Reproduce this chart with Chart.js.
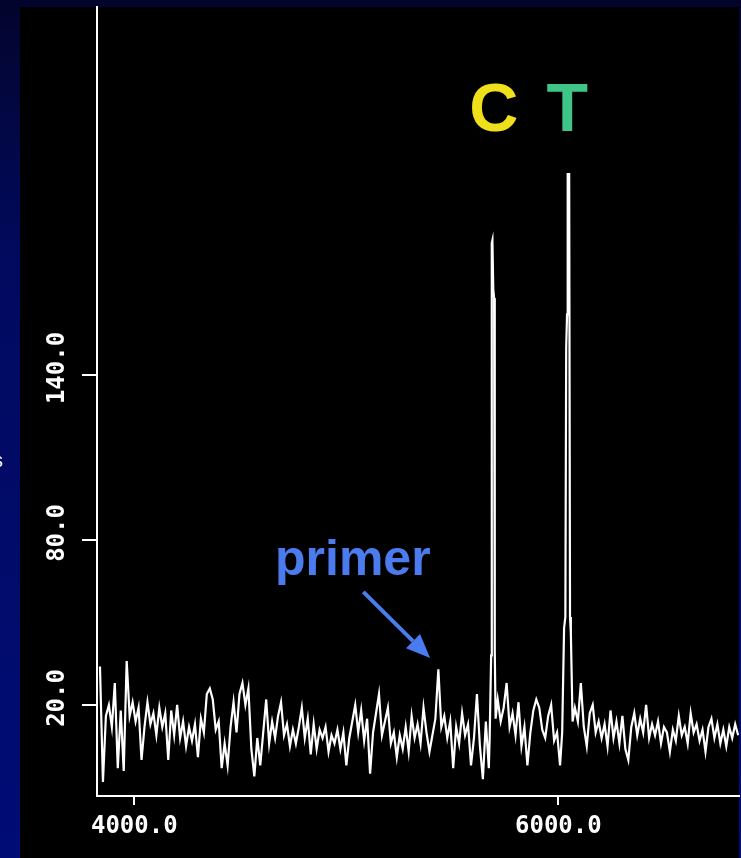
<!DOCTYPE html>
<html>
<head>
<meta charset="utf-8">
<script src="https://cdn.jsdelivr.net/npm/chart.js@4"></script>
<style>
  html, body { margin: 0; padding: 0; }
  body {
    width: 741px; height: 858px; overflow: hidden;
    background: linear-gradient(to bottom, #03042c 0%, #010a5e 30%, #000c76 100%);
  }
  #c { position: absolute; left: 0; top: 0; }
</style>
</head>
<body>
<canvas id="c" width="741" height="858"></canvas>
<script>
// ---------- data ----------
const xStart = 3838;          // first sample position
const xStep = 14;             // spacing between samples
const noiseValues = [
  34, -8, 16, 20, 12, 28, -3, 18, -4, 36,
  16, 21, 14, 19, 0, 12, 21, 13, 17, 9,
  19, 12, 17, 0, 18, 9, 20, 8, 14, 5,
  12, 7, 13, 1, 15, 10, 24, 26, 22, 11,
  14, -3, 6, -2, 12, 21, 10, 24, 28, 20,
  26, 4, -6, 8, -2, 10, 22, 6, 14, 8,
  16, 21, 9, 13, 5, 11, 6, 12, 19, 8,
  15, 2, 13, 4, 11, 8, 12, 3, 9, 6,
  11, 4, 10, -2, 8, 14, 20, 10, 18, 7,
  15, -5, 10, 17, 24, 9, 14, 19, 6, 10,
  1, 9, 4, 12, 3, 16, 8, 13, 6, 19,
  10, 3, 9, 15, 33, 12, 16, 8, 14, -3,
  12, 6, 17, 9, 13, -2, 8, 24, 5, -7,
  14, -3, 0, 0, 22, 14, 19, 28, 12, 17,
  9, 21, 5, 12, -2, 10, 18, 22, 19, 11,
  8, 16, 20, 7, 10, -2, 0, 0, 0, 0,
  19, 14, 28, 12, 5, 17, 20, 10, 14, 8,
  13, 5, 18, 8, 14, 6, 16, 4, 0, 12,
  17, 9, 15, 10, 20, 8, 13, 9, 14, 6,
  12, 10, 3, 11, 7, 16, 9, 12, 6, 17,
  10, 13, 7, 11, 3, 12, 15, 8, 13, 6,
  11, 5, 12, 8, 13, 9
];
// C peak
const peakCX = [5676, 5683, 5686, 5689, 5693, 5697, 5700, 5704];
const peakCY = [8, 38, 188, 189, 171, 168, 40, 15];
// T peak
const peakTX = [6018, 6027, 6033, 6037, 6041, 6044, 6051, 6055, 6059, 6067];
const peakTY = [10, 48, 52, 150, 162, 213, 213, 52, 46, 14];

const xTickValues = [4000, 6000];
const xTickLabels = ['4000.0', '6000.0'];
const yTickValues = [20, 80, 140];
const yTickLabels = ['20.0', '80.0', '140.0'];

const X_MIN = 3824, X_MAX = 6852;
const Y_MIN = -13.1, Y_MAX = 273.8;

// ---------- build points ----------
const peaks = [[peakCX, peakCY], [peakTX, peakTY]];
let points = [];
noiseValues.forEach((v, i) => {
  const x = xStart + i * xStep;
  const inPeak = peaks.some(([px]) => x >= px[0] && x <= px[px.length - 1]);
  if (!inPeak) points.push({ x: x, y: v });
});
peaks.forEach(([px, py]) => px.forEach((x, i) => points.push({ x: x, y: py[i] })));
points.sort((a, b) => a.x - b.x);

// ---------- plugins ----------
const bgPlugin = {
  id: 'bg',
  beforeDraw(chart) {
    const ctx = chart.ctx;
    ctx.save();
    ctx.fillStyle = '#000000';
    ctx.fillRect(20, 7, 719, 851);
    ctx.restore();
  }
};

const annotPlugin = {
  id: 'annot',
  afterDraw(chart) {
    const ctx = chart.ctx;
    const xs = chart.scales.x, ys = chart.scales.y;
    ctx.save();
    // y tick labels, rotated
    ctx.fillStyle = '#ffffff';
    ctx.font = 'bold 24px "DejaVu Sans Mono"';
    ctx.textAlign = 'center';
    ctx.textBaseline = 'middle';
    yTickValues.forEach((v, i) => {
      const py = ys.getPixelForValue(v);
      ctx.save();
      ctx.translate(58, py - 7);
      ctx.rotate(-Math.PI / 2);
      ctx.fillText(yTickLabels[i], 0, 0);
      ctx.restore();
    });
    // fragment of axis title at the left edge
    ctx.font = '20px "Liberation Sans"';
    ctx.textAlign = 'left';
    ctx.textBaseline = 'alphabetic';
    ctx.fillText('s', -7, 467);

    // base labels
    ctx.font = 'bold 68px "Liberation Sans"';
    ctx.textAlign = 'center';
    ctx.textBaseline = 'alphabetic';
    ctx.fillStyle = '#f0e01c';
    ctx.fillText('C', xs.getPixelForValue(5695), 131);
    ctx.fillStyle = '#3fc587';
    ctx.fillText('T', xs.getPixelForValue(6042), 131);

    // primer label + arrow
    ctx.fillStyle = '#4a7cf0';
    ctx.strokeStyle = '#4a7cf0';
    ctx.font = 'bold 50px "Liberation Sans"';
    ctx.textAlign = 'left';
    ctx.fillText('primer', 275, 575);
    const x0 = xs.getPixelForValue(5080), y0 = ys.getPixelForValue(61.1);
    const x1 = xs.getPixelForValue(5395), y1 = ys.getPixelForValue(37.1);
    const ang = Math.atan2(y1 - y0, x1 - x0);
    const headLen = 24, headW = 10;
    const bx = x1 - headLen * Math.cos(ang), by = y1 - headLen * Math.sin(ang);
    ctx.lineWidth = 4;
    ctx.beginPath();
    ctx.moveTo(x0, y0);
    ctx.lineTo(bx, by);
    ctx.stroke();
    ctx.beginPath();
    ctx.moveTo(x1, y1);
    ctx.lineTo(bx + headW * Math.sin(ang), by - headW * Math.cos(ang));
    ctx.lineTo(bx - headW * Math.sin(ang), by + headW * Math.cos(ang));
    ctx.closePath();
    ctx.fill();
    ctx.restore();
  }
};

new Chart(document.getElementById('c'), {
  type: 'line',
  data: {
    datasets: [{
      data: points,
      borderColor: '#ffffff',
      borderWidth: 2.2,
      pointRadius: 0,
      tension: 0,
      fill: false
    }]
  },
  options: {
    responsive: false,
    animation: false,
    devicePixelRatio: 1,
    layout: { padding: { left: 82, right: 2, top: 7, bottom: 0 } },
    plugins: { legend: { display: false }, tooltip: { enabled: false } },
    scales: {
      x: {
        type: 'linear',
        min: X_MIN, max: X_MAX,
        afterBuildTicks: s => { s.ticks = xTickValues.map(v => ({ value: v })); },
        afterFit: s => { s.height = 62; },
        ticks: {
          color: '#ffffff',
          font: { family: 'DejaVu Sans Mono', weight: 'bold', size: 24 },
          padding: 7,
          autoSkip: false,
          maxRotation: 0,
          callback: (v, i) => xTickLabels[i]
        },
        grid: { display: true, drawOnChartArea: false, drawTicks: true, tickLength: 9, color: '#ffffff', lineWidth: 2 },
        border: { display: true, color: '#ffffff', width: 2 }
      },
      y: {
        type: 'linear',
        min: Y_MIN, max: Y_MAX,
        afterBuildTicks: s => { s.ticks = yTickValues.map(v => ({ value: v })); },
        afterFit: s => { s.width = 15; },
        ticks: { display: false },
        grid: { display: true, drawOnChartArea: false, drawTicks: true, tickLength: 15, color: '#ffffff', lineWidth: 2 },
        border: { display: true, color: '#ffffff', width: 2 }
      }
    }
  },
  plugins: [bgPlugin, annotPlugin]
});
</script>
</body>
</html>
